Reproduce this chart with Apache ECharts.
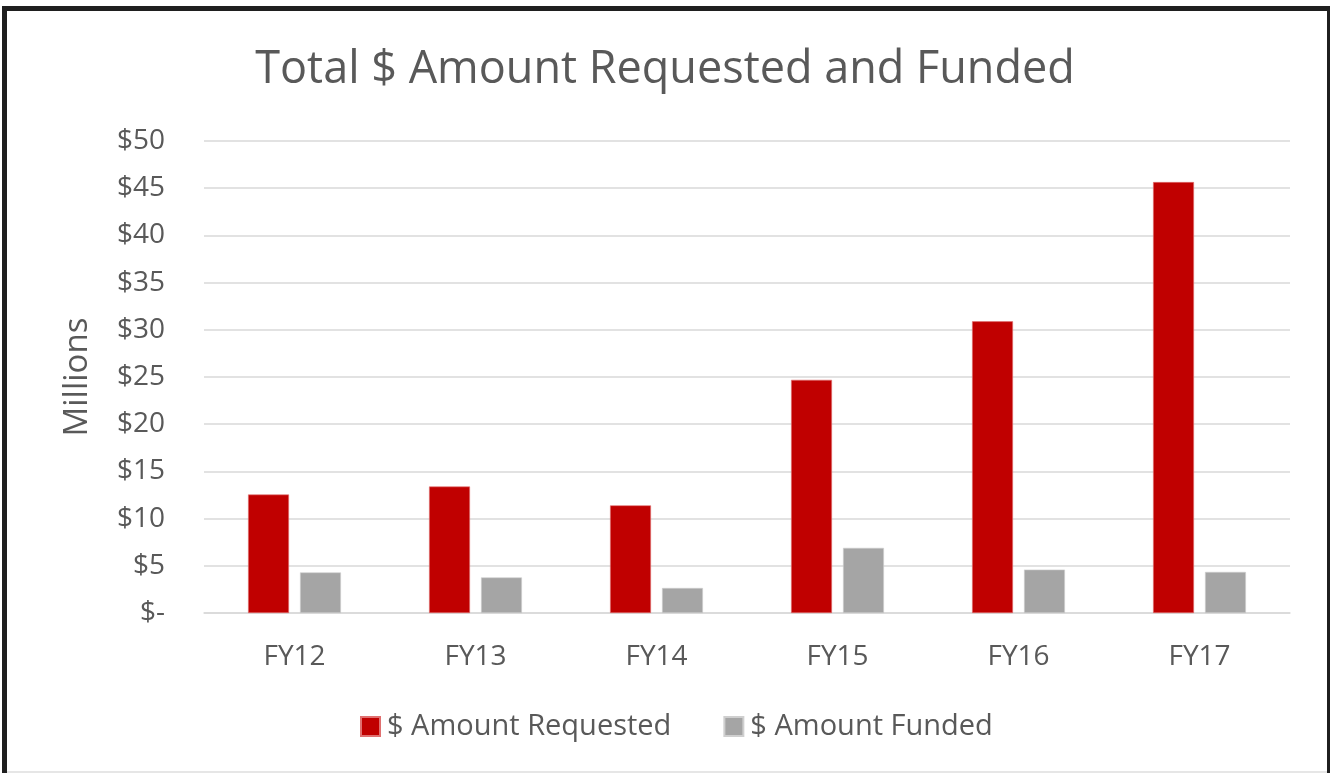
<!DOCTYPE html>
<html>
<head>
<meta charset="utf-8">
<script src="https://cdn.jsdelivr.net/npm/echarts@6.0.0/dist/echarts.min.js"></script>
<style>
  html, body { margin: 0; padding: 0; background: #f2e4d2; }
  #chart { position: absolute; left: 0; top: 0; width: 1330px; height: 773px; }
  .edge { position: absolute; background: #1f1f1f; pointer-events: none; }
</style>
</head>
<body>
<div id="chart"></div>
<div class="edge" style="left:2px; top:6px; width:1328px; height:5px;"></div>
<div class="edge" style="left:2px; top:6px; width:5px; height:767px;"></div>
<div class="edge" style="left:1327px; top:6px; width:3px; height:767px;"></div>
<div class="edge" style="left:7px; top:771px; width:1320px; height:2px; background:#e6e6e6;"></div>
<script>
const years = ['FY12', 'FY13', 'FY14', 'FY15', 'FY16', 'FY17'];
const requested = [12.55, 13.4, 11.4, 24.7, 30.9, 45.65];
const funded = [4.3, 3.77, 2.65, 6.9, 4.6, 4.35];
const yTicks = [0, 5, 10, 15, 20, 25, 30, 35, 40, 45, 50];

const font = '"Open Sans", Lato, sans-serif';
const textColor = '#595959';

const chart = echarts.init(document.getElementById('chart'));
chart.setOption({
    backgroundColor: '#ffffff',
    animation: false,
    title: {
        text: 'Total $ Amount Requested and Funded',
        left: 'center',
        top: 43,
        textStyle: { fontFamily: font, fontSize: 45, fontWeight: 'normal', color: textColor }
    },
    legend: {
        bottom: 27,
        left: 355,
        itemWidth: 19,
        itemHeight: 19,
        itemGap: 52,
        icon: 'rect',
        textStyle: { fontFamily: font, fontSize: 29, color: textColor, padding: [0, 0, 0, 2] }
    },
    grid: { left: 204, right: 40, top: 141, bottom: 160 },
    xAxis: {
        type: 'category',
        data: years,
        axisLine: { lineStyle: { color: '#d9d9d9', width: 1.5 } },
        axisTick: { show: false },
        axisLabel: { fontFamily: font, fontSize: 28, color: textColor, margin: 30 }
    },
    yAxis: {
        type: 'value',
        min: yTicks[0],
        max: yTicks[yTicks.length - 1],
        interval: yTicks[1] - yTicks[0],
        name: 'Millions',
        nameLocation: 'middle',
        nameGap: 110,
        nameTextStyle: { fontFamily: font, fontSize: 33, color: textColor },
        axisLine: { show: false },
        axisTick: { show: false },
        splitLine: { lineStyle: { color: '#d9d9d9', width: 1.5 } },
        axisLabel: {
            fontFamily: font, fontSize: 28, color: textColor, margin: 39,
            formatter: v => v === 0 ? '$-' : '$' + v
        }
    },
    series: [
        {
            name: '$ Amount Requested',
            type: 'bar',
            data: requested,
            barWidth: '22.6%',
            barGap: '27%',
            itemStyle: { color: '#c00000', borderColor: '#e07070', borderWidth: 0.6 }
        },
        {
            name: '$ Amount Funded',
            type: 'bar',
            data: funded,
            barWidth: '22.6%',
            itemStyle: { color: '#a5a5a5', borderColor: '#cfcfcf', borderWidth: 0.6 }
        }
    ]
});
</script>
</body>
</html>
